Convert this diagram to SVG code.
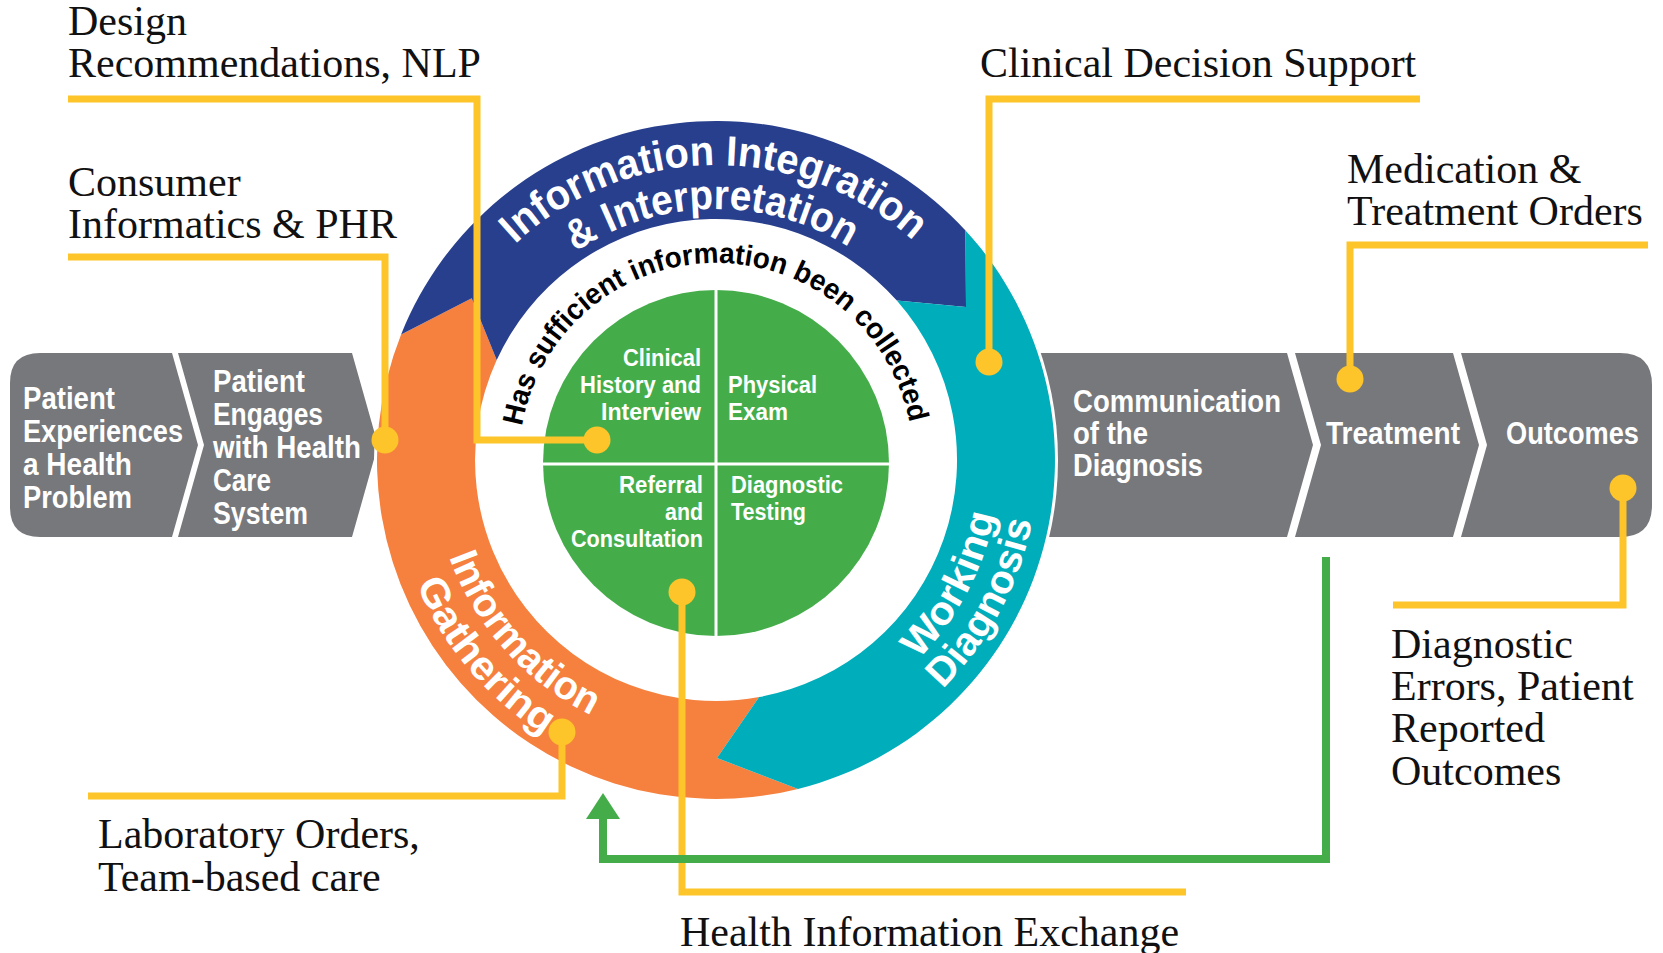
<svg xmlns="http://www.w3.org/2000/svg" width="1663" height="953" viewBox="0 0 1663 953">
<style>
.band{fill:#77787b}
.wt{font-family:'Liberation Sans',Arial,sans-serif;font-weight:bold;fill:#fff}
.bt{font-size:31px}
.gt{font-size:23px}
.lbl{font-family:'Liberation Serif','Times New Roman',serif;font-size:42px;fill:#111}
.cl{fill:none;stroke:#fdc52a;stroke-width:7}
.dot{fill:#fdc52a}
.fb{fill:none;stroke:#44ad4a;stroke-width:8}
</style>
<defs>
<path id="pTop1" d="M 421 460 A 295 295 0 0 1 1011 460"/>
<path id="pTop2" d="M 465 460 A 251 251 0 0 1 967 460"/>
<path id="pHas" d="M 519 460 A 197 197 0 0 1 913 460"/>
<path id="pGat1" d="M 432 460 A 284 284 0 0 0 716 744"/>
<path id="pGat2" d="M 392 460 A 324 324 0 0 0 716 784"/>
<path id="pWrk1" d="M 716 744 A 284 284 0 0 0 1000 460"/>
<path id="pWrk2" d="M 716 782 A 322 322 0 0 0 1038 460"/>
</defs>
<rect width="1663" height="953" fill="#fff"/>

<g id="step-experiences">
<path class="band" d="M 40 353 L 172 353 L 198 445 L 172 537 L 40 537 Q 10 537 10 507 L 10 383 Q 10 353 40 353 Z"/>
<text class="wt bt" x="23" y="409" textLength="92" lengthAdjust="spacingAndGlyphs">Patient</text>
<text class="wt bt" x="23" y="442" textLength="160" lengthAdjust="spacingAndGlyphs">Experiences</text>
<text class="wt bt" x="23" y="475" textLength="109" lengthAdjust="spacingAndGlyphs">a Health</text>
<text class="wt bt" x="23" y="508" textLength="109" lengthAdjust="spacingAndGlyphs">Problem</text>
</g>
<g id="step-engages">
<path class="band" d="M 178 353 L 352 353 L 378 445 L 352 537 L 178 537 L 204 445 Z"/>
<text class="wt bt" x="213" y="392" textLength="92" lengthAdjust="spacingAndGlyphs">Patient</text>
<text class="wt bt" x="213" y="425" textLength="110" lengthAdjust="spacingAndGlyphs">Engages</text>
<text class="wt bt" x="213" y="458" textLength="148" lengthAdjust="spacingAndGlyphs">with Health</text>
<text class="wt bt" x="213" y="491" textLength="58" lengthAdjust="spacingAndGlyphs">Care</text>
<text class="wt bt" x="213" y="524" textLength="95" lengthAdjust="spacingAndGlyphs">System</text>
</g>
<g id="step-communication">
<path class="band" d="M 960 353 L 1287 353 L 1313 445 L 1287 537 L 960 537 Z"/>
<text class="wt bt" x="1073" y="412" textLength="208" lengthAdjust="spacingAndGlyphs">Communication</text>
<text class="wt bt" x="1073" y="444" textLength="75" lengthAdjust="spacingAndGlyphs">of the</text>
<text class="wt bt" x="1073" y="476" textLength="130" lengthAdjust="spacingAndGlyphs">Diagnosis</text>
</g>
<g id="step-treatment">
<path class="band" d="M 1295 353 L 1453 353 L 1479 445 L 1453 537 L 1295 537 L 1321 445 Z"/>
<text class="wt bt" x="1326" y="444" textLength="134" lengthAdjust="spacingAndGlyphs">Treatment</text>
</g>
<g id="step-outcomes">
<path class="band" d="M 1461 353 L 1620 353 Q 1652 353 1652 385 L 1652 505 Q 1652 537 1620 537 L 1461 537 L 1487 445 Z"/>
<text class="wt bt" x="1506" y="444" textLength="133" lengthAdjust="spacingAndGlyphs">Outcomes</text>
</g>

<circle cx="716" cy="460" r="342" fill="#fff"/>

<g id="ring-gathering">
<path fill="#f6803d" d="M 798.0 788.9 A 339 339 0 0 1 401.1 334.4 L 471.7 298.3 L 496.7 360.1 A 241 241 0 0 0 759.1 697.1 L 717 758 Z"/>
<text class="wt" font-size="40"><textPath href="#pGat1" startOffset="99" textLength="218" lengthAdjust="spacingAndGlyphs">Information</textPath></text>
<text class="wt" font-size="40"><textPath href="#pGat2" startOffset="127" textLength="201" lengthAdjust="spacingAndGlyphs">Gathering</textPath></text>
</g>
<g id="ring-integration">
<path fill="#283f8e" d="M 401.1 334.4 A 339 339 0 0 1 965.5 230.5 L 966 307 L 896.8 300.6 A 241 241 0 0 0 496.7 360.1 L 471.7 298.3 Z"/>
<text class="wt" font-size="42"><textPath href="#pTop1" startOffset="242" textLength="437" lengthAdjust="spacingAndGlyphs">Information Integration</textPath></text>
<text class="wt" font-size="42"><textPath href="#pTop2" startOffset="245" textLength="289" lengthAdjust="spacingAndGlyphs">&amp; Interpretation</textPath></text>
</g>
<g id="ring-working">
<path fill="#00adbb" d="M 965.5 230.5 A 339 339 0 0 1 798.0 788.9 L 717 758 L 759.1 697.1 A 241 241 0 0 0 896.8 300.6 L 966 307 Z"/>
<text class="wt" font-size="40"><textPath href="#pWrk1" startOffset="225" textLength="166" lengthAdjust="spacingAndGlyphs">Working</textPath></text>
<text class="wt" font-size="40"><textPath href="#pWrk2" startOffset="251" textLength="193" lengthAdjust="spacingAndGlyphs">Diagnosis</textPath></text>
</g>
<g id="question">
<text font-family="'Liberation Sans',Arial,sans-serif" font-weight="bold" font-size="29" fill="#000"><textPath href="#pHas" startOffset="34" textLength="547" lengthAdjust="spacingAndGlyphs">Has sufficient information been collected</textPath></text>
</g>

<g id="center">
<circle cx="716" cy="463" r="173" fill="#44ad4a"/>
<line x1="716" y1="290" x2="716" y2="636" stroke="#fff" stroke-width="3"/>
<line x1="543" y1="464" x2="889" y2="464" stroke="#fff" stroke-width="3"/>
</g>
<g id="q-history">
<text class="wt gt" x="623" y="366" textLength="78" lengthAdjust="spacingAndGlyphs">Clinical</text>
<text class="wt gt" x="580" y="393" textLength="121" lengthAdjust="spacingAndGlyphs">History and</text>
<text class="wt gt" x="601" y="420" textLength="100" lengthAdjust="spacingAndGlyphs">Interview</text>
</g>
<g id="q-exam">
<text class="wt gt" x="728" y="393" textLength="89" lengthAdjust="spacingAndGlyphs">Physical</text>
<text class="wt gt" x="728" y="420" textLength="60" lengthAdjust="spacingAndGlyphs">Exam</text>
</g>
<g id="q-referral">
<text class="wt gt" x="619" y="493" textLength="84" lengthAdjust="spacingAndGlyphs">Referral</text>
<text class="wt gt" x="665" y="520" textLength="38" lengthAdjust="spacingAndGlyphs">and</text>
<text class="wt gt" x="571" y="547" textLength="132" lengthAdjust="spacingAndGlyphs">Consultation</text>
</g>
<g id="q-testing">
<text class="wt gt" x="731" y="493" textLength="112" lengthAdjust="spacingAndGlyphs">Diagnostic</text>
<text class="wt gt" x="731" y="520" textLength="75" lengthAdjust="spacingAndGlyphs">Testing</text>
</g>

<g id="connectors">
<polyline class="cl" points="68,99 477,99 477,440 597,440"/>
<circle class="dot" cx="597" cy="440" r="13.5"/>
<polyline class="cl" points="68,257 385,257 385,440"/>
<circle class="dot" cx="385" cy="440" r="13.5"/>
<polyline class="cl" points="1420,99 989,99 989,362"/>
<circle class="dot" cx="989" cy="362" r="13.5"/>
<polyline class="cl" points="1648,245 1350,245 1350,379"/>
<circle class="dot" cx="1350" cy="379" r="13.5"/>
<polyline class="cl" points="1623,488 1623,605 1393,605"/>
<circle class="dot" cx="1623" cy="488" r="13.5"/>
<polyline class="cl" points="88,796 562,796 562,732"/>
<circle class="dot" cx="562" cy="732" r="13.5"/>
<polyline class="cl" points="682,592 682,892 1186,892"/>
<circle class="dot" cx="682" cy="592" r="13.5"/>
<polyline class="fb" points="1326,557 1326,859 603,859 603,812"/>
<polygon fill="#44ad4a" points="603,793 586,819 620,819"/>
</g>

<g id="label-design">
<text class="lbl" x="68" y="35">Design</text>
<text class="lbl" x="68" y="77">Recommendations, NLP</text>
</g>
<g id="label-consumer">
<text class="lbl" x="68" y="196">Consumer</text>
<text class="lbl" x="68" y="238">Informatics &amp; PHR</text>
</g>
<g id="label-cds">
<text class="lbl" x="980" y="77">Clinical Decision Support</text>
</g>
<g id="label-medication">
<text class="lbl" x="1347" y="183">Medication &amp;</text>
<text class="lbl" x="1347" y="225">Treatment Orders</text>
</g>
<g id="label-errors">
<text class="lbl" x="1391" y="658">Diagnostic</text>
<text class="lbl" x="1391" y="700">Errors, Patient</text>
<text class="lbl" x="1391" y="742">Reported</text>
<text class="lbl" x="1391" y="785">Outcomes</text>
</g>
<g id="label-lab">
<text class="lbl" x="98" y="848">Laboratory Orders,</text>
<text class="lbl" x="98" y="891">Team-based care</text>
</g>
<g id="label-hie">
<text class="lbl" x="680" y="946">Health Information Exchange</text>
</g>
</svg>
